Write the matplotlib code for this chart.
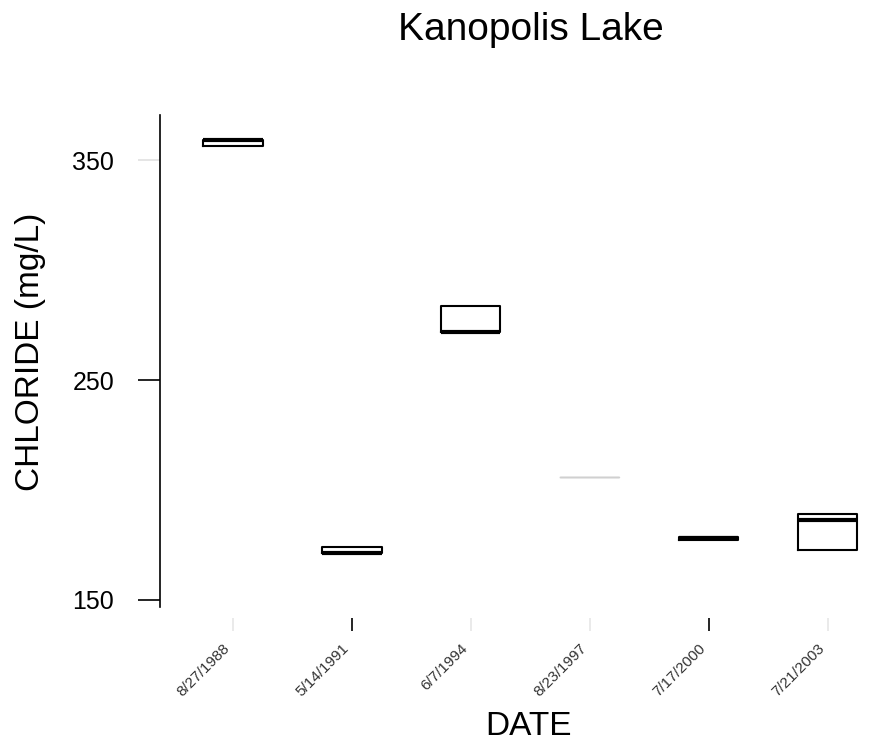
import matplotlib
matplotlib.use("Agg")
from matplotlib import pyplot as plt

plt.rcParams['font.family'] = ['Liberation Sans', 'DejaVu Sans']

# sampling dates and box statistics (mg/L)
dates = ['8/27/1988', '5/14/1991', '6/7/1994', '8/23/1997', '7/17/2000', '7/21/2003']
q1 = [356.4, 171.4, 272.0, 205.8, 177.3, 172.7]
med = [359.3, 171.4, 272.0, 205.9, 178.0, 186.4]
q3 = [359.3, 174.1, 283.6, 206.0, 178.6, 189.1]

yticks = [150, 250, 350]

stats = []
for i in range(len(dates)):
    stats.append({'label': dates[i], 'q1': q1[i], 'med': med[i], 'q3': q3[i],
                  'whislo': q1[i], 'whishi': q3[i], 'fliers': []})

fig = plt.figure(figsize=(8.95, 7.44), dpi=100)
ax = fig.add_axes([160 / 895, 1 - 607 / 744, 727 / 895, 492 / 744])

positions = list(range(1, len(dates) + 1))
bp = ax.bxp(stats, positions=positions, widths=0.5, showcaps=False,
            boxprops=dict(color='black', linewidth=1.5),
            medianprops=dict(color='black', linewidth=3),
            whiskerprops=dict(color='black', linewidth=1))

# the 1997 box is barely visible in the original
bp['boxes'][3].set_color('#d0d0d0')
bp['boxes'][3].set_linewidth(1)
bp['medians'][3].set_color('#d0d0d0')
bp['medians'][3].set_linewidth(1)

ax.set_xlim(0.387, 6.5)
ax.set_ylim(146.8, 370.5)

for s in ['top', 'right', 'bottom']:
    ax.spines[s].set_visible(False)
ax.spines['left'].set_linewidth(1.2)
ax.spines['bottom'].set_position(('outward', 8))

ax.set_yticks(yticks)
ax.set_yticklabels([str(v) for v in yticks])
ax.tick_params(axis='y', length=16, width=1.2, pad=17, labelsize=18)

ax.set_xticks(positions)
ax.set_xticklabels(dates, rotation=45, ha='right', va='top', fontsize=11, color='#333333')
ax.tick_params(axis='x', length=9.5, width=1.2, pad=7)

# most tick marks come out faint in the original
xtick_colors = ['#e6e6e6', 'black', '#e6e6e6', '#e6e6e6', 'black', '#e6e6e6']
for t, c in zip(ax.xaxis.get_major_ticks(), xtick_colors):
    t.tick1line.set_markeredgecolor(c)
ax.yaxis.get_major_ticks()[2].tick1line.set_markeredgecolor('#e0e0e0')

fig.text(531 / 895, 1 - 40 / 744, 'Kanopolis Lake', fontsize=28, ha='center', va='baseline')
fig.text(529 / 895, 1 - 735 / 744, 'DATE', fontsize=24, ha='center', va='baseline')
fig.text(31 / 895, 1 - 352 / 744, 'CHLORIDE (mg/L)', fontsize=24, rotation=90,
         ha='center', va='center')

fig.savefig('out.png', dpi=100)
